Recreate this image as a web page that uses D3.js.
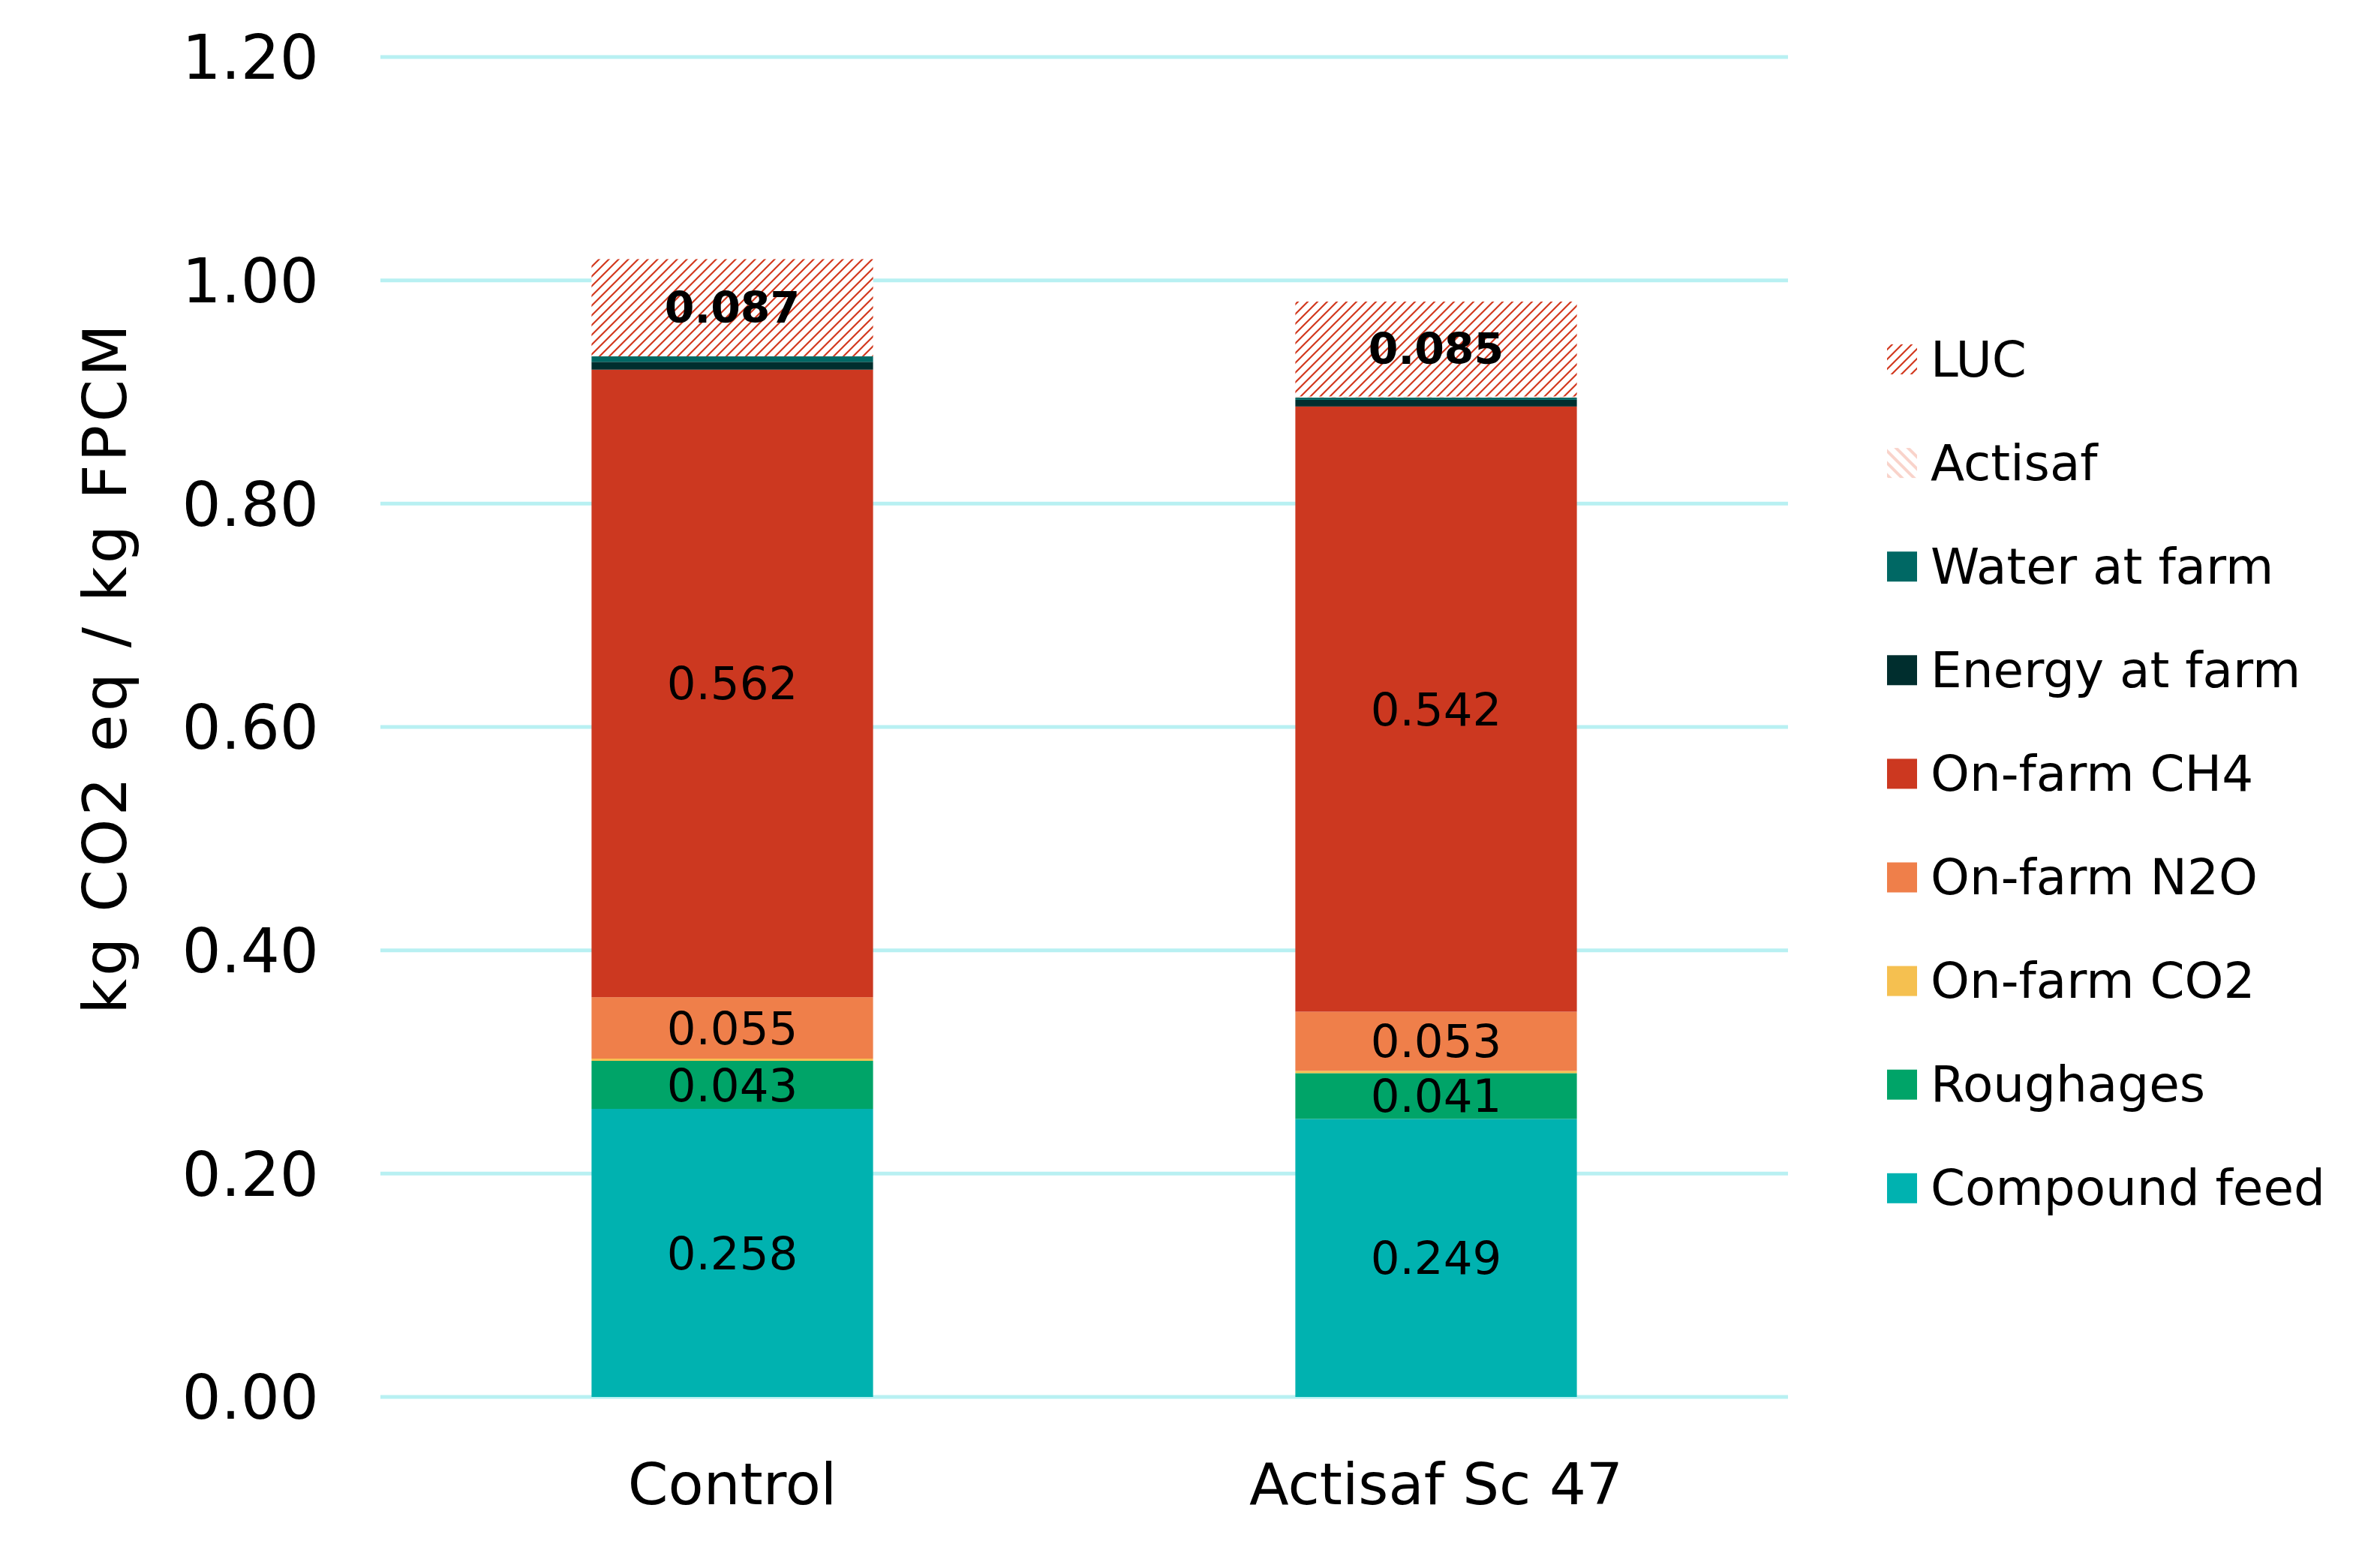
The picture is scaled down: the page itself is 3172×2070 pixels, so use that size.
<!DOCTYPE html>
<html>
<head>
<meta charset="utf-8">
<script src="https://cdn.jsdelivr.net/npm/d3@7"></script>
<style>
  html, body { margin: 0; padding: 0; background: #ffffff; }
  svg { display: block; }
  text { font-family: "DejaVu Sans", sans-serif; fill: #000; }
</style>
</head>
<body>
<script>
// ---- data ----
const categories = ["Control", "Actisaf Sc 47"];
const seriesNames = ["Compound feed", "Roughages", "On-farm CO2", "On-farm N2O", "On-farm CH4",
                     "Energy at farm", "Water at farm", "Actisaf", "LUC"];
const compoundFeed = [0.258, 0.249];
const roughages    = [0.043, 0.041];
const onFarmCO2    = [0.002, 0.002];
const onFarmN2O    = [0.055, 0.053];
const onFarmCH4    = [0.562, 0.542];
const energyAtFarm = [0.007, 0.006];
const waterAtFarm  = [0.005, 0.002];
const actisaf      = [0.000, 0.001];
const luc          = [0.087, 0.085];
const yTicks = [0, 0.2, 0.4, 0.6, 0.8, 1.0, 1.2];
const yTitle = "kg CO2 eq / kg FPCM";
const labelledSeries = ["Compound feed", "Roughages", "On-farm N2O", "On-farm CH4", "LUC"];

const seriesValues = [compoundFeed, roughages, onFarmCO2, onFarmN2O, onFarmCH4,
                      energyAtFarm, waterAtFarm, actisaf, luc];
const colors = {
  "Compound feed": "#00B2B0",
  "Roughages": "#00A468",
  "On-farm CO2": "#F5C050",
  "On-farm N2O": "#EF7F4A",
  "On-farm CH4": "#CC3820",
  "Energy at farm": "#002E2E",
  "Water at farm": "#006864",
  "Actisaf": "url(#hatchActisaf)",
  "LUC": "url(#hatchLUC)"
};

// table for d3.stack
const table = categories.map((c, i) => {
  const row = { category: c };
  seriesNames.forEach((s, j) => row[s] = seriesValues[j][i]);
  return row;
});

const W = 3172, H = 2070;
const svg = d3.select("body").append("svg").attr("width", W).attr("height", H);
svg.append("rect").attr("width", W).attr("height", H).attr("fill", "#fff");

const defs = svg.append("defs");
const pL = defs.append("pattern").attr("id", "hatchLUC").attr("patternUnits", "userSpaceOnUse")
  .attr("width", 13).attr("height", 13);
pL.append("rect").attr("width", 13).attr("height", 13).attr("fill", "#fff");
pL.append("path").attr("d", "M-3,16 L16,-3 M-3,3 L3,-3 M10,16 L16,10")
  .attr("stroke", "#D2391F").attr("stroke-width", 2.2);

const pA = defs.append("pattern").attr("id", "hatchActisaf").attr("patternUnits", "userSpaceOnUse")
  .attr("width", 16).attr("height", 16);
pA.append("rect").attr("width", 16).attr("height", 16).attr("fill", "#fff");
pA.append("path").attr("d", "M-4,-4 L20,20 M-4,12 L4,20 M12,-4 L20,4")
  .attr("stroke", "#F9D3CA").attr("stroke-width", 4);

const y = d3.scaleLinear().domain([0, 1.2]).range([1862, 76]);
const x = d3.scaleBand().domain(categories).range([507, 2383]).paddingInner(0.6).paddingOuter(0.3);

// gridlines
svg.append("g").selectAll("line").data(yTicks).join("line")
  .attr("x1", 507).attr("x2", 2383)
  .attr("y1", d => y(d)).attr("y2", d => y(d))
  .attr("stroke", "#B8F0F2").attr("stroke-width", 5);

// y axis labels
const yAxis = d3.axisLeft(y).tickValues(yTicks).tickFormat(d3.format(".2f")).tickSize(0).tickPadding(0);
const gy = svg.append("g").attr("transform", "translate(425,0)").call(yAxis);
gy.select(".domain").remove();
gy.selectAll("text").attr("font-family", "DejaVu Sans").attr("font-size", 82).attr("fill", "#000")
  .attr("dy", "0.35em");

// y title
svg.append("text")
  .attr("transform", "translate(168,890) rotate(-90)")
  .attr("text-anchor", "middle")
  .attr("font-size", 81)
  .attr("letter-spacing", 4)
  .text(yTitle);

// x axis labels
const xAxis = d3.axisBottom(x).tickSize(0).tickPadding(0);
const gx = svg.append("g").attr("transform", "translate(0,1950)").call(xAxis);
gx.select(".domain").remove();
gx.selectAll("text").attr("font-family", "DejaVu Sans").attr("font-size", 77).attr("fill", "#000")
  .attr("dy", "0.71em");

// stacked bars
const stack = d3.stack().keys(seriesNames);
const stacked = stack(table);
const layers = svg.append("g").selectAll("g").data(stacked).join("g")
  .attr("fill", d => colors[d.key]);
layers.selectAll("rect").data(d => d.map(v => ({ key: d.key, v }))).join("rect")
  .attr("x", d => x(d.v.data.category))
  .attr("width", x.bandwidth())
  .attr("y", d => y(d.v[1]))
  .attr("height", d => Math.max(0, y(d.v[0]) - y(d.v[1])));

// value labels
const labels = [];
stacked.forEach(layer => {
  if (!labelledSeries.includes(layer.key)) return;
  layer.forEach(v => labels.push({ key: layer.key, v }));
});
svg.append("g").selectAll("text").data(labels).join("text")
  .attr("x", d => x(d.v.data.category) + x.bandwidth() / 2)
  .attr("y", d => (y(d.v[0]) + y(d.v[1])) / 2)
  .attr("text-anchor", "middle")
  .attr("dominant-baseline", "central")
  .attr("font-size", d => d.key === "LUC" ? 57 : 61)
  .attr("font-weight", d => d.key === "LUC" ? "bold" : "normal")
  .text(d => (d.v.data[d.key]).toFixed(3));

// legend (top to bottom: reverse stack order)
const legendItems = seriesNames.slice().reverse();
const lg = svg.append("g").selectAll("g").data(legendItems).join("g")
  .attr("transform", (d, i) => `translate(2515,${479 + i * 138.1})`);
lg.append("rect").attr("x", 0).attr("y", -20).attr("width", 40).attr("height", 40)
  .attr("fill", d => colors[d]);
lg.append("text").attr("x", 58).attr("y", 0).attr("dominant-baseline", "central")
  .attr("font-size", 66).text(d => d);
</script>
</body>
</html>
